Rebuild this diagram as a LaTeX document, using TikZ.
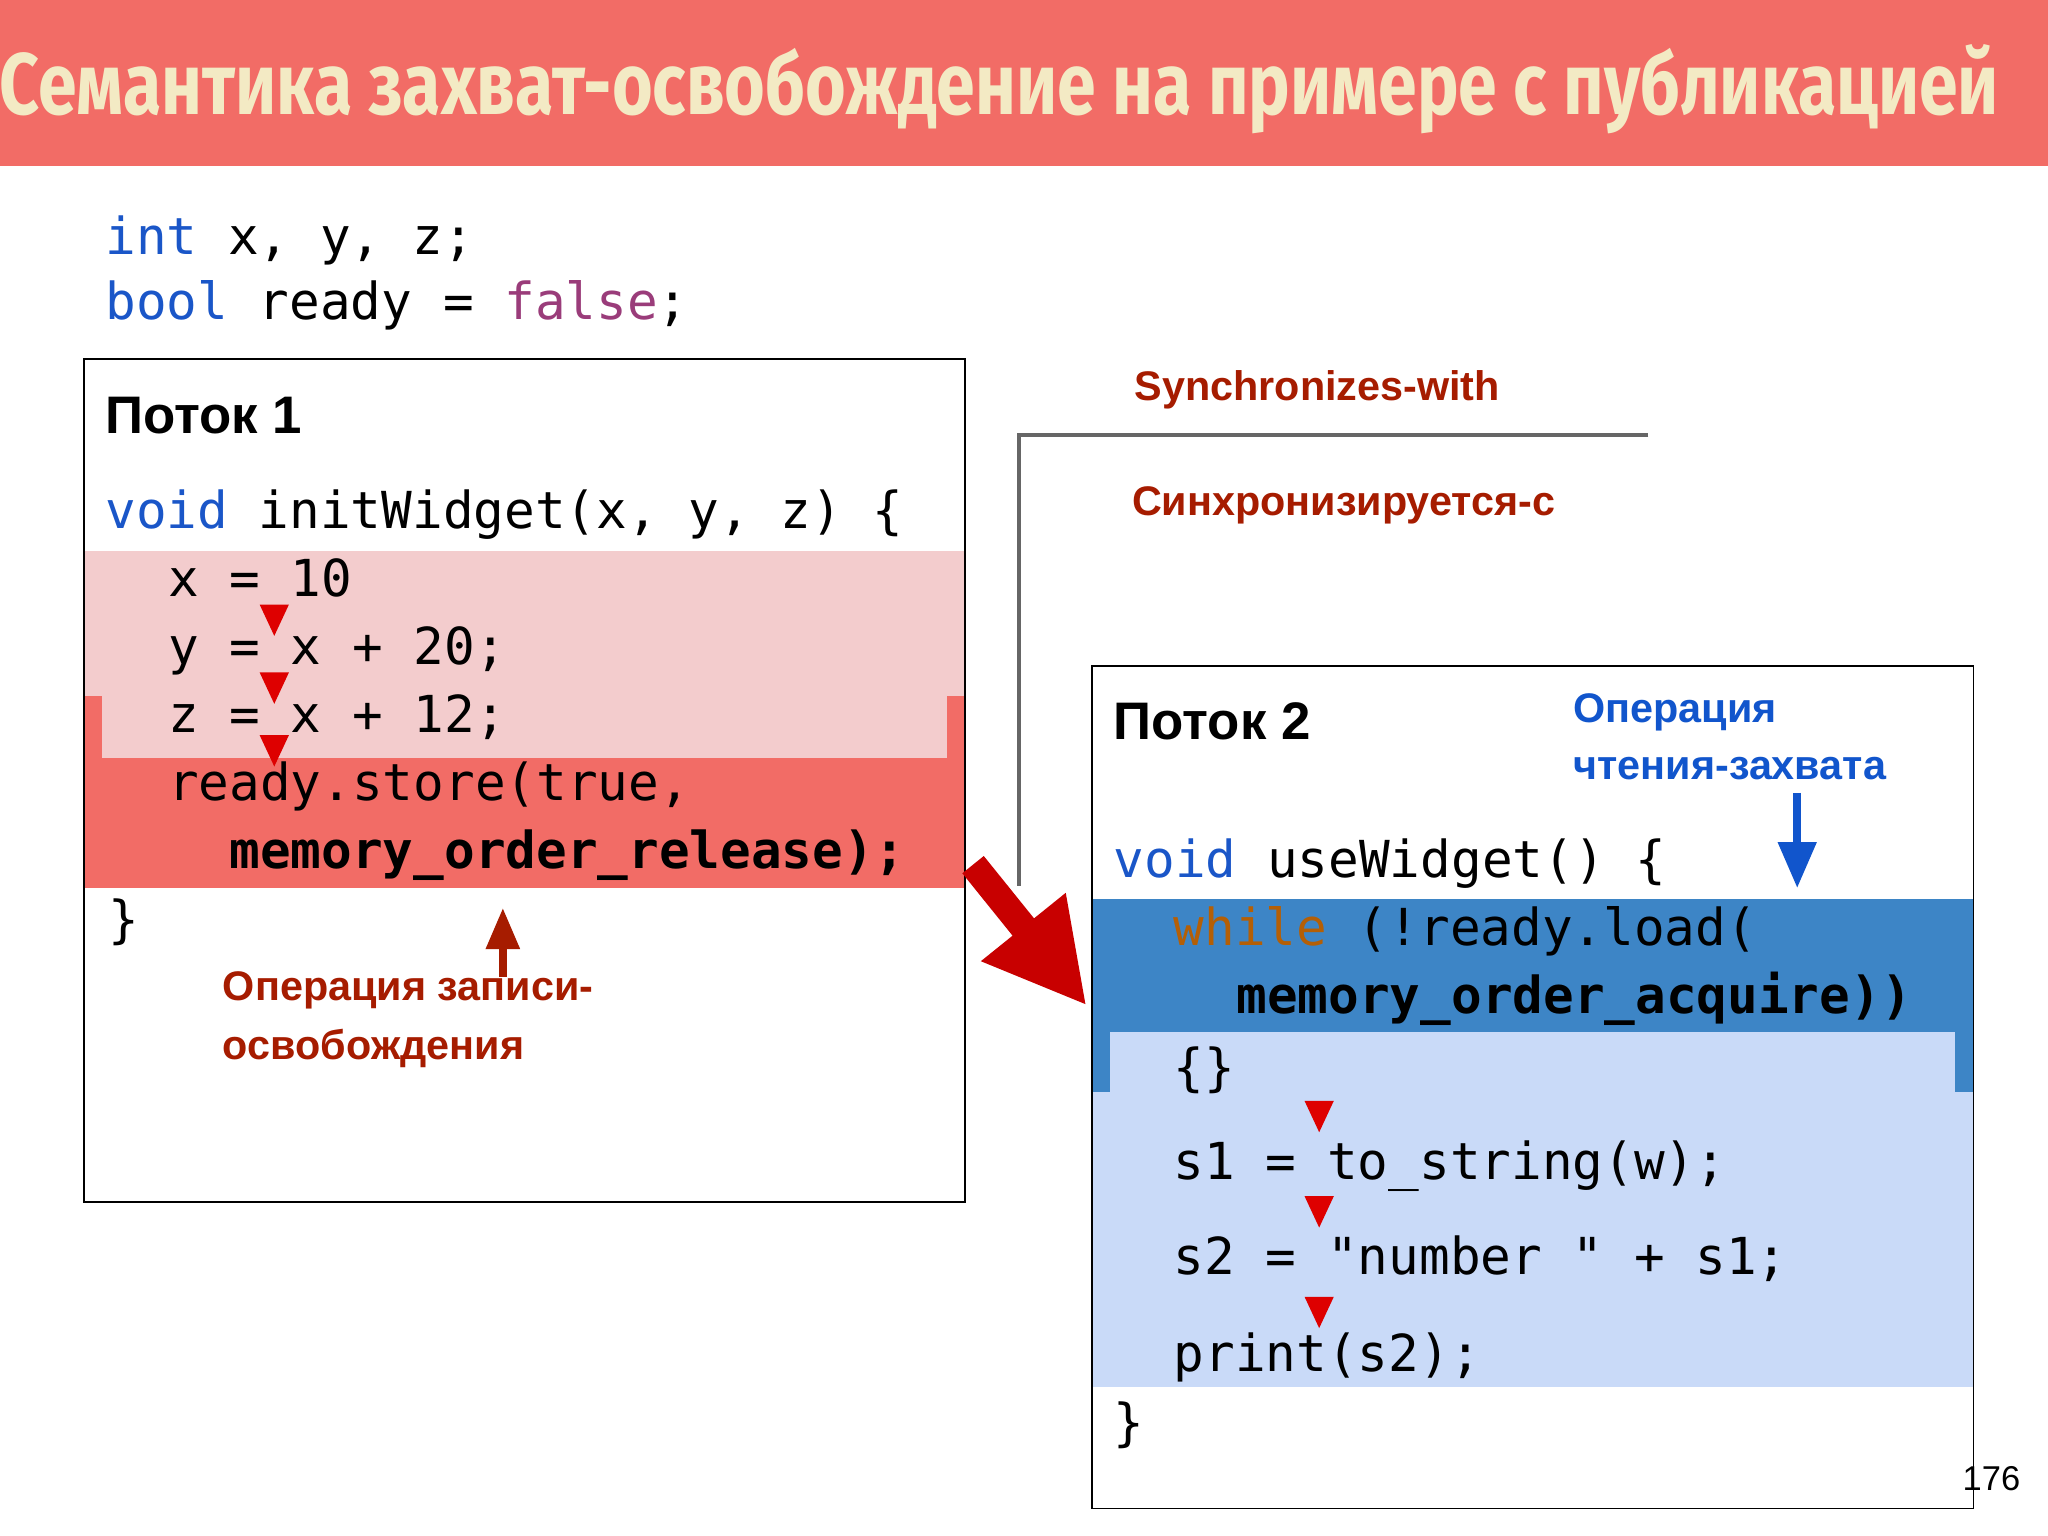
\documentclass[tikz,border=0pt]{standalone}
\usepackage{fontspec}
\usetikzlibrary{shapes.geometric,arrows.meta}
\setmainfont{Liberation Sans}
\setmonofont{DejaVu Sans Mono}
\newfontfamily\titlefont{Fira Sans}
\begin{document}
\begin{tikzpicture}[x=0.01cm,y=-0.01cm,
  code/.style={anchor=base west,inner sep=0,font=\ttfamily\fontsize{11.1}{13}\selectfont},
  head/.style={anchor=base west,inner sep=0,font=\bfseries\fontsize{11.5}{13}\selectfont},
  note/.style={anchor=base west,inner sep=0,font=\bfseries\fontsize{9}{11}\selectfont},
  tri/.style={fill=tri,draw=none,isosceles triangle,shape border rotate=-90,minimum width=0.2cm,minimum height=0.24cm,inner sep=0,isosceles triangle apex angle=50}]
\definecolor{titlebg}{RGB}{242,108,102}
\definecolor{titlefg}{RGB}{243,234,196}
\definecolor{kw}{RGB}{26,86,200}
\definecolor{lit}{RGB}{154,60,122}
\definecolor{pinkband}{RGB}{243,204,205}
\definecolor{redband}{RGB}{242,108,102}
\definecolor{darkred}{RGB}{166,28,0}
\definecolor{tri}{RGB}{222,0,0}
\definecolor{blueband}{RGB}{61,133,198}
\definecolor{lightblue}{RGB}{201,218,248}
\definecolor{bluetxt}{RGB}{17,85,204}
\definecolor{whilec}{RGB}{180,95,6}
\useasboundingbox (0,0) rectangle (1568,1176);
\fill[white] (0,0) rectangle (1568,1176);
\fill[titlebg] (0,0) rectangle (1568,127);
\node[anchor=base,inner sep=0,text=titlefg] (title) at (765,88) {\scalebox{0.8}[1]{\titlefont\bfseries\fontsize{19}{22}\selectfont Семантика захват-освобождение на примере с публикацией}};
\node[code] (l1) at (80,195) {\textcolor{kw}{int} x, y, z;};
\node[code] (l2) at (80,245) {\textcolor{kw}{bool} ready = \textcolor{lit}{false};};
% thread 1
\fill[pinkband] (64,422) rectangle (739,533);
\fill[redband] (64,533) rectangle (739,680);
\fill[pinkband] (78,533) rectangle (725,580);
\draw[thin] (64,275) rectangle (739,920);
\node[head] (t1) at (80,332) {Поток 1};
\node[code] (a0) at (80,405) {\textcolor{kw}{void} initWidget(x, y, z) \{};
\node[code] (a1) at (128,457) {x = 10};
\node[code] (a2) at (128,509) {y = x + 20;};
\node[code] (a3) at (128,561) {z = x + 12;};
\node[code] (a4) at (128,613) {ready.store(true,};
\node[code] (a5) at (175,665) {\bfseries memory\_order\_release);};
\node[code] (a6) at (82,718) {\}};
\node[tri] (r1) at (210,470) {};
\node[tri] (r2) at (210,522) {};
\node[tri] (r3) at (210,570) {};
\node[note,text=darkred] (n1) at (170,766) {Операция записи-};
\node[note,text=darkred] (n2) at (170,811) {освобождения};
\coordinate (u1) at (385,748);
\coordinate (u2) at (385,695);
\draw[darkred,line width=1.8pt,-{Triangle[width=7pt,length=9pt]}] (u1) -- (u2);
% sync
\node[note,text=darkred] (s1) at (868,307) {Synchronizes-with};
\node[note,text=darkred] (s2) at (866,395) {Синхронизируется-с};
\coordinate (g1) at (1262,333); \coordinate (g2) at (780,333); \coordinate (g3) at (780,678);
\draw[gray!80!black,line width=0.9pt] (g1) -- (g2) -- (g3);
\coordinate (b1) at (745,662); \coordinate (b2) at (832,770);
\draw[tri!90!black,line width=6pt,-{Triangle[width=22pt,length=22pt]}] (b1) -- (b2);
% thread 2
\fill[blueband] (836,688) rectangle (1511,836);
\fill[lightblue] (850,790) rectangle (1497,836);
\fill[lightblue] (836,836) rectangle (1511,1062);
\draw[thin] (836,510) rectangle (1511,1155);
\node[head] (t2) at (852,566) {Поток 2};
\node[note,text=bluetxt] (o1) at (1204,553) {Операция};
\node[note,text=bluetxt] (o2) at (1204,597) {чтения-захвата};
\coordinate (v1) at (1376,607); \coordinate (v2) at (1376,680);
\draw[bluetxt,line width=1.8pt,-{Triangle[width=8pt,length=10pt]}] (v1) -- (v2);
\node[code] (c0) at (852,672) {\textcolor{kw}{void} useWidget() \{};
\node[code] (c1) at (898,724) {\textcolor{whilec}{while} (!ready.load(};
\node[code] (c2) at (946,776) {\bfseries memory\_order\_acquire))};
\node[code] (c3) at (898,831) {\{\}};
\node[code] (c4) at (898,903) {s1 = to\_string(w);};
\node[code] (c5) at (898,976) {s2 = "number " + s1;};
\node[code] (c6) at (898,1050) {print(s2);};
\node[code] (c7) at (852,1103) {\}};
\node[tri] (q1) at (1010,850) {};
\node[tri] (q2) at (1010,923) {};
\node[tri] (q3) at (1010,1000) {};
\node[anchor=base west,inner sep=0,font=\fontsize{7.5}{9}\selectfont] (pg) at (1502,1141) {176};
\end{tikzpicture}
\end{document}
